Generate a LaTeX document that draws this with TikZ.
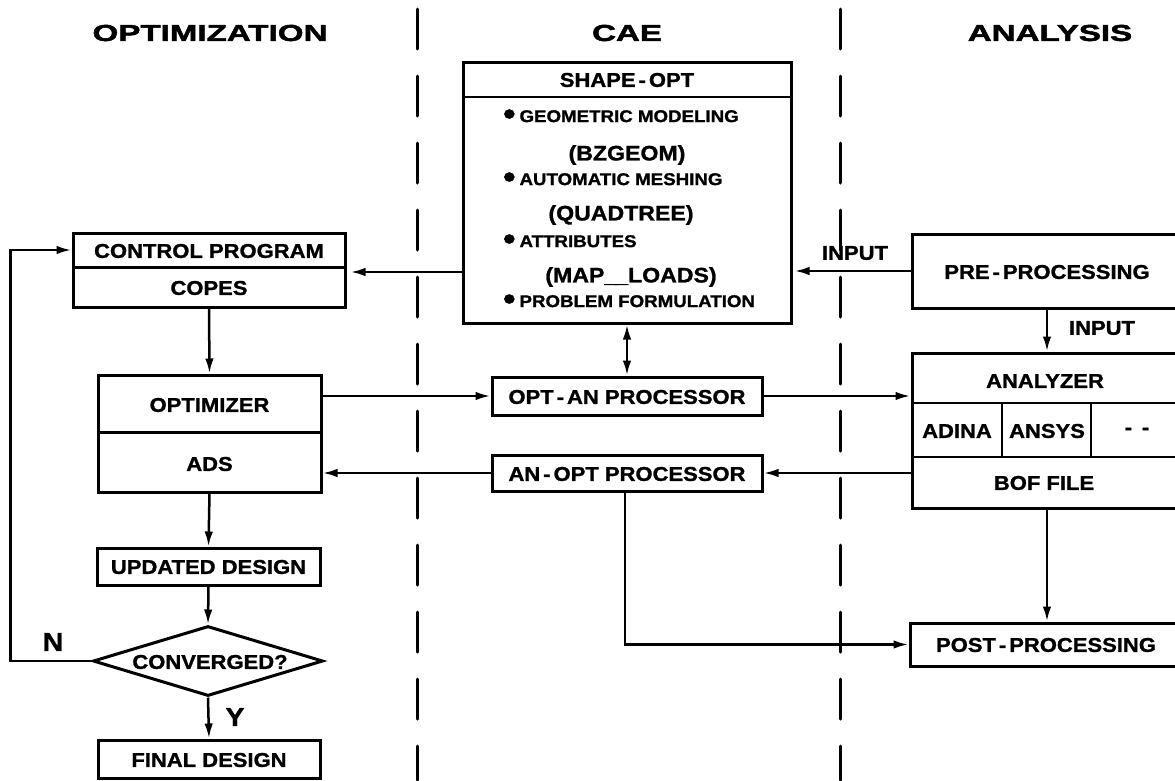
\documentclass[tikz,border=0pt]{standalone}
\usepackage{fontspec}
\setmainfont{Liberation Sans}[FakeStretch=1.1, BoldFeatures={FakeBold=1.2}]
\newfontfamily\hdrfont{Liberation Sans}[FakeStretch=1.44, BoldFeatures={FakeBold=2.2}]
\usetikzlibrary{arrows.meta,shapes.geometric,calc}
\tikzset{
  bx/.style={draw, line width=3pt, inner sep=0pt},
  txt/.style={font=\bfseries\fontsize{20}{21}\selectfont, inner sep=0pt},
  sm/.style={font=\bfseries\fontsize{17}{18}\selectfont, inner sep=0pt, anchor=west},
  prn/.style={font=\bfseries\fontsize{21}{22}\selectfont, inner sep=0pt},
  big/.style={font=\bfseries\fontsize{26}{27}\selectfont, inner sep=0pt},
  hdr/.style={font=\hdrfont\bfseries\fontsize{23}{24}\selectfont, inner sep=0pt},
  arr/.style={line width=2.5pt, -{Latex[length=15pt,width=8.5pt]}},
  darr/.style={line width=2.5pt, {Latex[length=15pt,width=8.5pt]}-{Latex[length=15pt,width=8.5pt]}},
  dv/.style={line width=2.5pt},
  sepline/.style={line width=3pt, dash pattern=on 40pt off 27pt, line cap=round},
}
\newcommand{\hy}{\kern3pt-\kern3pt}
\newcommand{\bul}{{\fontsize{32}{18}\selectfont\raisebox{-2.5pt}{•}}\kern4pt}
\begin{document}
\begin{tikzpicture}[x=1pt,y=-1pt]
\useasboundingbox (0,0) rectangle (1175,780);
\begin{scope}
\clip (0,0) rectangle (1175,780);
% column separators
\draw[sepline] (417,9) -- (417,780);
\draw[sepline] (840,9) -- (840,780);

% headers
\node[hdr] (hopt) at (210,33) {OPTIMIZATION};
\node[hdr] (hcae) at (627,33) {CAE};
\node[hdr] (hana) at (1050,33) {ANALYSIS};

% SHAPE-OPT
\node[bx, fill=white, minimum width=328, minimum height=261] (so) at (627,192.5) {};
\draw[dv] (463,97) -- (791,97);
\node[txt] (sot) at (627,80) {SHAPE\hy OPT};
\node[sm] (s1) at (503,117) {\bul GEOMETRIC MODELING};
\node[prn] (s2) at (627,155) {(BZGEOM)};
\node[sm] (s3) at (503,180) {\bul AUTOMATIC MESHING};
\node[prn] (s4) at (621,215) {(QUADTREE)};
\node[sm] (s5) at (503,242) {\bul ATTRIBUTES};
\node[prn] (s6) at (631,277) {(MAP\_\kern-2pt\_LOADS)};
\node[sm] (s7) at (503,302) {\bul PROBLEM FORMULATION};

% control program
\node[bx, fill=white, minimum width=272, minimum height=34] (cpt) at (209,250) {};
\node[bx, fill=white, minimum width=272, minimum height=40] (cpb) at (209,287) {};
\node[txt] (cptx) at (209,251) {CONTROL PROGRAM};
\node[txt] (cpbx) at (209,288) {COPES};

% optimizer
\node[bx, fill=white, minimum width=223, minimum height=57] (optt) at (209.5,403.5) {};
\node[bx, fill=white, minimum width=223, minimum height=60] (optb) at (209.5,462) {};
\node[txt] (opttx) at (209.5,405) {OPTIMIZER};
\node[txt] (optbx) at (209.5,464) {ADS};

% updated, converged, final
\node[bx, minimum width=223, minimum height=37] (upd) at (208.5,566.5) {};
\node[txt] (updx) at (208.5,567) {UPDATED DESIGN};
\node[draw, line width=3pt, diamond, aspect=3.3, inner sep=0pt, minimum width=230, minimum height=70] (conv) at (208,661) {};
\node[txt] (convx) at (210,662) {CONVERGED?};
\node[bx, minimum width=222, minimum height=38] (fin) at (209,759) {};
\node[txt] (finx) at (209,760) {FINAL DESIGN};

% processors
\node[bx, minimum width=270, minimum height=38] (optan) at (627,396) {};
\node[txt] (optanx) at (627,397) {OPT\hy AN PROCESSOR};
\node[bx, minimum width=270, minimum height=36] (anopt) at (627,473) {};
\node[txt] (anoptx) at (627,474) {AN\hy OPT PROCESSOR};

% analysis column
\node[bx, minimum width=268, minimum height=74] (pre) at (1046,271) {};
\node[txt] (prex) at (1047,272) {PRE\hy PROCESSING};
\node[bx, minimum width=268, minimum height=155] (ana) at (1046,430.5) {};
\draw[dv] (912,403) -- (1180,403);
\draw[dv] (912,457) -- (1180,457);
\draw[dv] (1002,403) -- (1002,457);
\draw[dv] (1091,403) -- (1091,457);
\node[txt] (anax) at (1045,381) {ANALYZER};
\node[txt] (adina) at (957,431) {ADINA};
\node[txt] (ansys) at (1047,431) {ANSYS};
\node[txt] (dots) at (1137,431) {-\kern10pt-};
\node[txt] (bof) at (1044,483) {BOF FILE};
\node[bx, minimum width=270, minimum height=43] (post) at (1045,644.5) {};
\node[txt] (postx) at (1046,645) {POST\hy PROCESSING};

% connectors
\coordinate (ycp) at (0,272);
\draw[arr] (so.west |- ycp) -- ([xshift=4pt]cpb.east |- ycp);
\draw[arr] (pre.west) -- ([xshift=2pt]so.east |- pre.west);
\node[txt] (inp1) at (855,253) {INPUT};
\draw[arr] (pre.south -| 1047,0) -- (ana.north -| 1047,0);
\node[txt] (inp2) at (1102,328) {INPUT};
\draw[arr] (cpb.south) -- (optt.north);
\draw[arr] (optt.east |- optan.west) -- (optan.west);
\draw[arr] (optan.east) -- (ana.west |- optan.east);
\draw[darr] (so.south) -- (optan.north);
\draw[arr] (ana.west |- anopt.east) -- (anopt.east);
\draw[arr] (anopt.west) -- (optb.east |- anopt.west);
\draw[arr] (anopt.south -| 625,0) |- (post.west);
\draw[arr] (ana.south -| 1047,0) -- (post.north -| 1047,0);
\draw[arr] (optb.south) -- (upd.north);
\draw[arr] (upd.south) -- (conv.north);
\draw[arr] (conv.south) -- (fin.north);
\node[big] (ylab) at (235,717) {Y};
\draw[arr] (conv.west) -- ++(-81,0) |- (cpt.west);
\node[big] (nlab) at (53,642) {N};
\end{scope}
\end{tikzpicture}
\end{document}
